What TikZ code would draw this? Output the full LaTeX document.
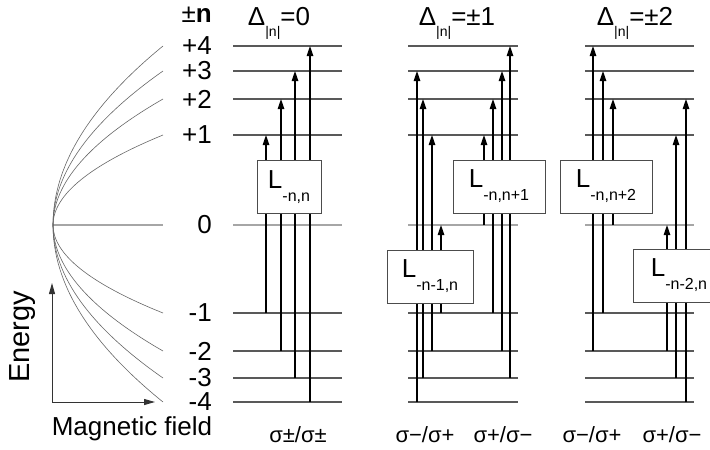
\documentclass[tikz,border=0pt]{standalone}
\usepackage{fontspec}
\setmainfont{Liberation Sans}
\usetikzlibrary{arrows.meta}

\newcommand{\lsub}[2]{#1\raisebox{-13pt}{\fontsize{16}{16}\selectfont#2}}
\newcommand{\dsub}[1]{\raisebox{-11pt}{\fontsize{14}{14}\selectfont#1}}

\begin{document}
\begin{tikzpicture}[x=1pt, y=-1pt, font=\fontsize{26}{28}\selectfont,
  lab/.style={anchor=east, inner sep=0pt},
  level/.style={draw=black!65, line width=1.1pt},
  zero/.style={draw=black!35, line width=1.5pt},
  curve/.style={draw=black!60, line width=0.6pt},
  a/.style={-{Triangle[length=10pt, width=6.5pt]}, line width=1.2pt, draw=black},
  ax/.style={-{Triangle[length=11pt, width=6pt]}, line width=1pt, draw=black!80},
  lbox/.style={draw=black!70, line width=1pt, fill=white, minimum height=53pt, inner sep=0pt},
  head/.style={inner sep=0pt, anchor=base},
  pol/.style={font=\fontsize{22}{24}\selectfont, inner sep=0pt}]
  \useasboundingbox (0,0) rectangle (710,450);

  % level labels
  \node[lab] (top) at (212,15) {±\textbf{n}};
  \foreach \nm/\t/\y in {p4/+4/46, p3/+3/71, p2/+2/99, p1/+1/135, z/0/225,
                         m1/-1/313, m2/-2/351, m3/-3/378, m4/-4/402}
    \node[lab] (\nm) at (212,\y) {\t};

  % fan of levels against field
  \coordinate (o) at (53,225);
  \draw[zero] (o) -- (163,0 |- z);
  \foreach \nm/\y in {p4/46, p3/71, p2/99, p1/135, m1/313, m2/351, m3/378, m4/402}
    \draw[curve] (o) .. controls +(0,{(\y-225)/3}) and +(-73,{(225-\y)/3}) .. (163,0 |- \nm);

  \coordinate (ax0) at (52,402);
  \coordinate (axe) at (52,283);
  \coordinate (axb) at (155,402);
  \draw[ax] (ax0) -- (axe);
  \draw[ax] (ax0) -- (axb);
  \node[rotate=90, font=\fontsize{29}{30}\selectfont] (energy) at (23,337) {Energy};
  \node[font=\fontsize{26}{28}\selectfont, inner sep=0pt] (field) at (132,429) {Magnetic field};

  % level lines of the three panels
  \foreach \xa/\xb in {233/342, 408/518, 585/694} {
    \foreach \nm in {p4, p3, p2, p1, m1, m2, m3, m4}
      \draw[level] (\xa,0 |- \nm) -- (\xb,0 |- \nm);
    \draw[zero] (\xa,0 |- z) -- (\xb,0 |- z);
  }

  % transitions
  \foreach \x/\f/\t in {266/m1/p1, 281/m2/p2, 295/m3/p3, 310/m4/p4,
                        417/m4/p3, 423/m3/p2, 432/m2/p1, 441/m1/z,
                        484/z/p1, 493/m1/p2, 502/m2/p3, 510/m3/p4,
                        593/m2/p4, 603/m1/p3, 613/z/p2,
                        667/m2/z, 676/m3/p1, 686/m4/p2}
    \draw[a] (\x,0 |- \f) -- (\x,0 |- \t);

  \node[lbox, minimum width=64pt] (Lnn) at (289,187) {\lsub{L}{-n,n}};
  \node[lbox, minimum width=86pt] (Ln1n) at (430,276.5) {\lsub{L}{-n-1,n}};
  \node[lbox, minimum width=92pt] (Lnn1) at (499,186.5) {\lsub{L}{-n,n+1}};
  \node[lbox, minimum width=92pt] (Lnn2) at (606,186.5) {\lsub{L}{-n,n+2}};
  \node[lbox, minimum width=92pt] (Ln2n) at (679,275.5) {\lsub{L}{-n-2,n}};

  % headers and polarisations
  \node[head] (h0) at (279,25) {Δ\dsub{|n|}=0};
  \node[head] (h1) at (457,25) {Δ\dsub{|n|}=±1};
  \node[head] (h2) at (635,25) {Δ\dsub{|n|}=±2};
  \node[pol] (s0) at (298,435) {σ±/σ±};
  \node[pol] (s1a) at (425,435) {σ−/σ+};
  \node[pol] (s1b) at (503,435) {σ+/σ−};
  \node[pol] (s2a) at (592,435) {σ−/σ+};
  \node[pol] (s2b) at (672,435) {σ+/σ−};
\end{tikzpicture}
\end{document}
